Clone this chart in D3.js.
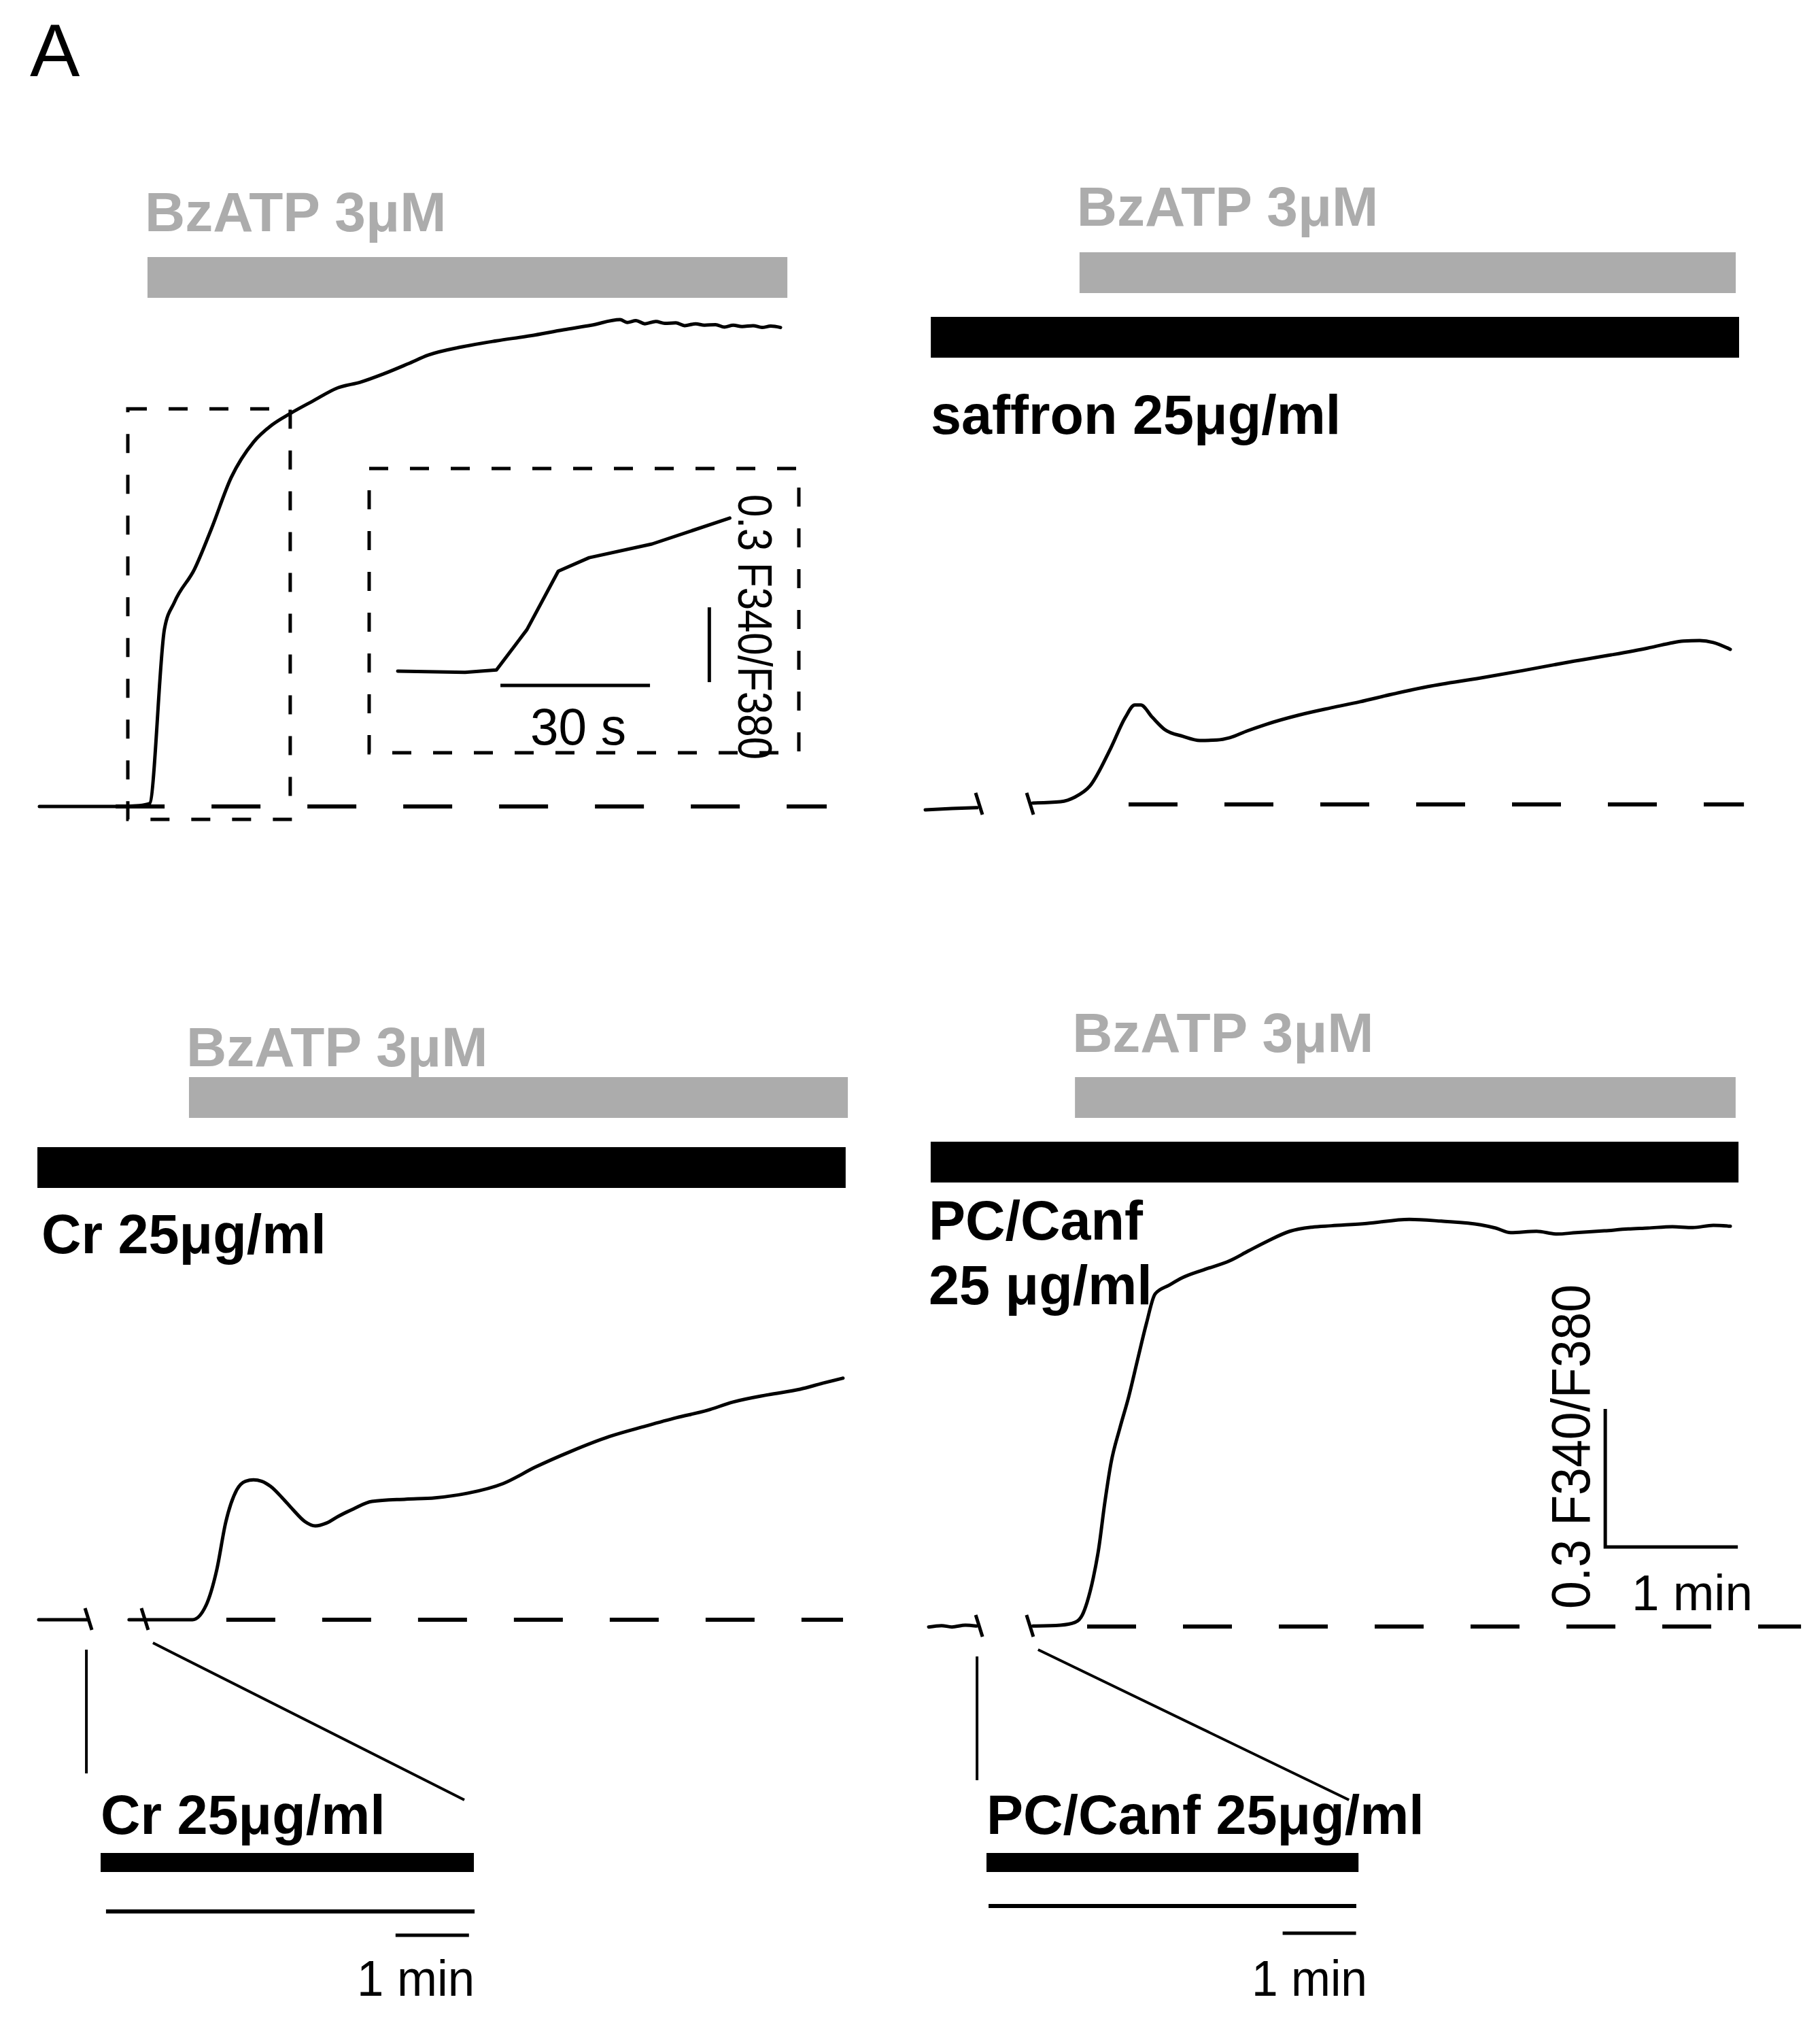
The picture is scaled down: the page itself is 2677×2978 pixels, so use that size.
<!DOCTYPE html>
<html lang="en">
<head>
<meta charset="UTF-8">
<title>BzATP Ca2+ traces</title>
<script src="https://cdn.jsdelivr.net/npm/d3@7"></script>
<style>
    body { margin: 0; background: #fff; }
    svg { display: block; }
    text { font-family: "Liberation Sans", Arial, sans-serif; }
</style>
</head>
<body>
<div id="main"></div>
<script>
// ---------- data: time in s, ratio as change of F340/F380 from baseline ----------
const agonistLabel = "BzATP 3μM";
const extractLabels = ["saffron 25μg/ml", "Cr 25μg/ml", ["PC/Canf", "25 μg/ml"]];
const insetLabels = ["Cr 25μg/ml", "PC/Canf 25μg/ml"];
const ratioLabel = "0.3 F340/F380";
const minLabel = "1 min";
const secLabel = "30 s";

// panel 1 : BzATP alone
const p1Time = [0, 19.1, 34.5, 45.2, 49.8, 56.6, 61.2, 70.2, 77.8, 86.8, 96.9, 105.2, 113.5, 123.7, 135.1, 145.2,
    155.7, 166.8, 176.0, 191.4, 206.8, 222.2, 237.2, 249.8, 262.8, 266, 270, 274, 279, 283, 288, 292, 297, 301,
    306, 310, 314, 318, 323, 327, 331, 335.4];
const p1Ratio = [0, 0, 0, 0.002, 0.006, 0.386, 0.445, 0.516, 0.603, 0.715, 0.792, 0.829, 0.854, 0.881, 0.910, 0.922,
    0.940, 0.962, 0.981, 0.999, 1.012, 1.023, 1.036, 1.046, 1.058, 1.052, 1.056, 1.049, 1.054, 1.050, 1.051, 1.045, 1.049, 1.046,
    1.047, 1.042, 1.046, 1.043, 1.045, 1.041, 1.044, 1.041];
const p1Bz = [48.9, 338.5];
const p1Zoom = [40, 113.5, -0.028, 0.864];

// panel 1 inset (30 s scale)
const insTime = [0, 13.5, 19.8, 25.9, 32.2, 38.4, 51.0, 66.6];
const insRatio = [0, -0.005, 0.005, 0.166, 0.401, 0.455, 0.510, 0.614];
const insTimeBar = [20.6, -0.057];
const insRatioBar = [62.5, -0.044];

// panel 2 : saffron
const p2PreTime = [0, 12, 23.4];
const p2PreRatio = [-0.012, -0.009, -0.007];
const p2Time = [48.6, 61.2, 67.7, 74.5, 84.0, 90.5, 94.8, 97.5, 102.8, 108.3, 116.6, 124.3, 132.0, 137.8, 145.8, 154.2,
    168.9, 183.7, 196.6, 210.8, 227.4, 251.4, 270.5, 292.0, 310.5, 327.1, 336.6, 343.1, 350.5, 356.6, 364.3];
const p2Ratio = [0.003, 0.006, 0.016, 0.040, 0.123, 0.189, 0.216, 0.216, 0.189, 0.163, 0.148, 0.139, 0.140, 0.145, 0.160, 0.174,
    0.194, 0.210, 0.223, 0.239, 0.256, 0.275, 0.291, 0.310, 0.325, 0.340, 0.350, 0.355, 0.356, 0.352, 0.337];
const p2Bz = [69.8, 366.8];
const p2Extract = [2.5, 368.3];
const p2Breaks = [24.3, 47.4];

// panel 3 : Cr
const p3PreTime = [0.6, 23.1];
const p3PreRatio = [0, 0];
const p3Time = [41.5, 70.2, 76.3, 81.2, 85.2, 90.2, 94.2, 97.8, 101.5, 105.5, 110.8, 115.7, 120.9, 125.8, 130.8, 136.3,
    143.1, 151.4, 166.8, 180.0, 194.8, 210.8, 225.5, 241.5, 258.8, 275.4, 289.2, 303.1, 314.8, 330.8, 345.2, 355.4, 364.6];
const p3Ratio = [0, 0, 0.031, 0.109, 0.211, 0.282, 0.301, 0.304, 0.301, 0.290, 0.265, 0.239, 0.214, 0.204, 0.210, 0.225,
    0.241, 0.257, 0.262, 0.265, 0.275, 0.296, 0.332, 0.366, 0.398, 0.421, 0.439, 0.455, 0.473, 0.489, 0.501, 0.514, 0.525];
const p3Bz = [68.6, 366.8];
const p3Extract = [0, 365.8];
const p3Breaks = [23.1, 48.6];
const p3Pre = [0, 305, 4.4, 305.6, 241];   // extract bar, recording line, 1 min bar start

// panel 4 : PC/Canf
const p4PreTime = [0, 5.8, 10.5, 16.6, 21.5];
const p4PreRatio = [-0.001, 0.002, -0.001, 0.003, 0.001];
const p4Time = [47.1, 59.7, 66.2, 69.5, 71.7, 74.5, 76.9, 79.7, 82.5, 86.5, 90.5, 94.5, 98.5, 102.5, 108.9, 114.8,
    124.3, 136.3, 144.6, 153.5, 163.4, 173.5, 182.2, 198.2, 217.5, 232.0, 249.8, 256.6, 263.4, 275.1, 284.3, 292.9,
    305.8, 316.6, 325.5, 336.6, 345.8, 355.1, 362.8];
const p4Ratio = [0.001, 0.003, 0.009, 0.025, 0.053, 0.106, 0.168, 0.269, 0.355, 0.431, 0.499, 0.579, 0.658, 0.723, 0.742, 0.758,
    0.775, 0.795, 0.816, 0.838, 0.859, 0.868, 0.871, 0.876, 0.885, 0.881, 0.873, 0.866, 0.856, 0.859, 0.853, 0.856,
    0.860, 0.864, 0.866, 0.869, 0.867, 0.872, 0.870];
const p4Bz = [66.2, 365.2];
const p4Extract = [0.9, 366.5];
const p4Breaks = [22.8, 45.8];
const p4Pre = [0, 304, 1.7, 302.2, 242];
const p4ScaleBar = [306.2, 0.173];

// dashed zero lines (s)
const zeroLines = [[34.5, 356.3], [92, 370.5], [85.5, 364.6], [71.7, 394.8]];

// ---------- drawing ----------
const W = 2677, H = 2978;
const svg = d3.select("#main").append("svg").attr("width", W).attr("height", H);
svg.append("rect").attr("width", W).attr("height", H).attr("fill", "#fff");

const GRAY = "#acacac";
const pxMin = 195, pxTenth = 203;   // 1 min and 0.3 ratio in pixels
const zip = (t, r) => t.map((d, i) => [d, r[i]]);

function scales(x0, base) {
    const x = d3.scaleLinear().domain([0, 60]).range([x0, x0 + pxMin]);
    const y = d3.scaleLinear().domain([0, 0.3]).range([base, base - pxTenth]);
    return {x, y};
}

function trace(g, s, data, curve) {
    const line = d3.line().x(d => s.x(d[0])).y(d => s.y(d[1])).curve(curve || d3.curveMonotoneX);
    g.append("path").datum(data).attr("d", line)
        .attr("fill", "none").attr("stroke", "#000").attr("stroke-width", 5)
        .attr("stroke-linejoin", "round").attr("stroke-linecap", "round");
}

function zeroLine(g, s, span) {
    g.append("line").attr("x1", s.x(span[0])).attr("x2", s.x(span[1]))
        .attr("y1", s.y(0)).attr("y2", s.y(0))
        .attr("stroke", "#000").attr("stroke-width", 6).attr("stroke-dasharray", "72,69");
}

function bar(g, s, span, top, h, color) {
    g.append("rect").attr("x", s.x(span[0])).attr("width", s.x(span[1]) - s.x(span[0]))
        .attr("y", top).attr("height", h).attr("fill", color);
}

function label(g, x, y, txt, size, color, weight) {
    return g.append("text").attr("x", x).attr("y", y).text(txt)
        .attr("font-size", size).attr("font-weight", weight || "bold").attr("fill", color || "#000");
}

function breaks(g, s, ts) {
    g.selectAll(null).data(ts).enter().append("line")
        .attr("x1", d => s.x(d) - 5).attr("x2", d => s.x(d) + 5)
        .attr("y1", s.y(0) - 17).attr("y2", s.y(0) + 15)
        .attr("stroke", "#000").attr("stroke-width", 5);
}

// panel letter
label(svg, 44, 112, "A", 110, "#000", "normal");

// ---- panel 1 ----
{
    const g = svg.append("g");
    const s = scales(58, 1186);
    label(g, s.x(p1Bz[0]) - 4, 340, agonistLabel, 82, GRAY);
    bar(g, s, p1Bz, 378, 60, GRAY);
    zeroLine(g, s, zeroLines[0]);
    trace(g, s, zip(p1Time, p1Ratio));
    g.append("rect")
        .attr("x", s.x(p1Zoom[0])).attr("width", s.x(p1Zoom[1]) - s.x(p1Zoom[0]))
        .attr("y", s.y(p1Zoom[3])).attr("height", s.y(p1Zoom[2]) - s.y(p1Zoom[3]))
        .attr("fill", "none").attr("stroke", "#000").attr("stroke-width", 5).attr("stroke-dasharray", "28,32");

    // inset
    g.append("rect").attr("x", 543).attr("y", 689).attr("width", 632).attr("height", 418)
        .attr("fill", "none").attr("stroke", "#000").attr("stroke-width", 5).attr("stroke-dasharray", "28,32");
    const si = {
        x: d3.scaleLinear().domain([0, 30]).range([585, 805]),
        y: d3.scaleLinear().domain([0, 0.3]).range([987, 877])
    };
    trace(g, si, zip(insTime, insRatio), d3.curveLinear);
    g.append("line").attr("x1", si.x(insTimeBar[0])).attr("x2", si.x(insTimeBar[0] + 30))
        .attr("y1", si.y(insTimeBar[1])).attr("y2", si.y(insTimeBar[1]))
        .attr("stroke", "#000").attr("stroke-width", 5);
    g.append("line").attr("x1", si.x(insRatioBar[0])).attr("x2", si.x(insRatioBar[0]))
        .attr("y1", si.y(insRatioBar[1])).attr("y2", si.y(insRatioBar[1] + 0.3))
        .attr("stroke", "#000").attr("stroke-width", 5);
    label(g, 780, 1095, secLabel, 76, "#000", "normal")
        .attr("textLength", 141).attr("lengthAdjust", "spacingAndGlyphs");
    g.append("text").attr("transform", "translate(1086,727) rotate(90)")
        .text(ratioLabel).attr("font-size", 71)
        .attr("textLength", 390).attr("lengthAdjust", "spacingAndGlyphs");
}

// ---- panels 2-4 ----
const panels = [
    {x0: 1361, base: 1183, bzY: 332, grayTop: 371, blackTop: 466, labX: 1369, labY: [638],
     bz: p2Bz, ex: p2Extract, pre: zip(p2PreTime, p2PreRatio), main: zip(p2Time, p2Ratio), brk: p2Breaks,
     name: [extractLabels[0]], zero: zeroLines[1]},
    {x0: 55, base: 2382, bzY: 1568, grayTop: 1584, blackTop: 1687, labX: 61, labY: [1843],
     bz: p3Bz, ex: p3Extract, pre: zip(p3PreTime, p3PreRatio), main: zip(p3Time, p3Ratio), brk: p3Breaks,
     name: [extractLabels[1]], zero: zeroLines[2],
     inset: {x0: 148, vals: p3Pre, recY: 2811, minY: 2846, name: insetLabels[0], minX: 525, minLen: 173}},
    {x0: 1366, base: 2392, bzY: 1547, grayTop: 1584, blackTop: 1679, labX: 1366, labY: [1823, 1918],
     bz: p4Bz, ex: p4Extract, pre: zip(p4PreTime, p4PreRatio), main: zip(p4Time, p4Ratio), brk: p4Breaks,
     name: extractLabels[2], zero: zeroLines[3],
     inset: {x0: 1451, vals: p4Pre, recY: 2803, minY: 2843, name: insetLabels[1], minX: 1841, minLen: 170}}
];

panels.forEach(p => {
    const g = svg.append("g");
    const s = scales(p.x0, p.base);
    label(g, s.x(p.bz[0]) - 4, p.bzY, agonistLabel, 82, GRAY);
    bar(g, s, p.bz, p.grayTop, 60, GRAY);
    bar(g, s, p.ex, p.blackTop, 60, "#000");
    p.name.forEach((n, i) => label(g, p.labX, p.labY[i], n, 81));
    zeroLine(g, s, p.zero);
    trace(g, s, p.pre);
    trace(g, s, p.main);
    breaks(g, s, p.brk);

    if (p.inset) {
        const v = p.inset.vals;
        const xi = d3.scaleLinear().domain([0, 60]).range([p.inset.x0, p.inset.x0 + 108]);
        const si = {x: xi, y: s.y};
        // connectors from the break to the expanded pre-incubation
        g.append("line").attr("x1", s.x(p.brk[0]) - 3).attr("x2", s.x(p.brk[0]) - 3)
            .attr("y1", p.base + 44).attr("y2", p.base + 226)
            .attr("stroke", "#000").attr("stroke-width", 4);
        g.append("line").attr("x1", s.x(p.brk[1]) + 12).attr("y1", p.base + 34)
            .attr("x2", xi(v[1]) - 14).attr("y2", 2647)
            .attr("stroke", "#000").attr("stroke-width", 4);
        label(g, xi(v[0]), 2697, p.inset.name, 81);
        bar(g, si, [v[0], v[1]], 2725, 28, "#000");
        g.append("line").attr("x1", xi(v[2])).attr("x2", xi(v[3]))
            .attr("y1", p.inset.recY).attr("y2", p.inset.recY)
            .attr("stroke", "#000").attr("stroke-width", 6);
        g.append("line").attr("x1", xi(v[4])).attr("x2", xi(v[4] + 60))
            .attr("y1", p.inset.minY).attr("y2", p.inset.minY)
            .attr("stroke", "#000").attr("stroke-width", 5);
        label(g, p.inset.minX, 2935, minLabel, 75, "#000", "normal")
            .attr("textLength", p.inset.minLen).attr("lengthAdjust", "spacingAndGlyphs");
    }

    if (p === panels[2]) {
        // calibration bars
        const t = p4ScaleBar[0], r = p4ScaleBar[1];
        g.append("path")
            .attr("d", d3.line()([[s.x(t), s.y(r + 0.3)], [s.x(t), s.y(r)], [s.x(t + 60), s.y(r)]]))
            .attr("fill", "none").attr("stroke", "#000").attr("stroke-width", 5);
        g.append("text").attr("transform", "translate(2338,2366) rotate(-90)")
            .text(ratioLabel).attr("font-size", 80)
            .attr("textLength", 477).attr("lengthAdjust", "spacingAndGlyphs");
        label(g, 2400, 2368, minLabel, 75, "#000", "normal")
            .attr("textLength", 178).attr("lengthAdjust", "spacingAndGlyphs");
    }
});
</script>
</body>
</html>
